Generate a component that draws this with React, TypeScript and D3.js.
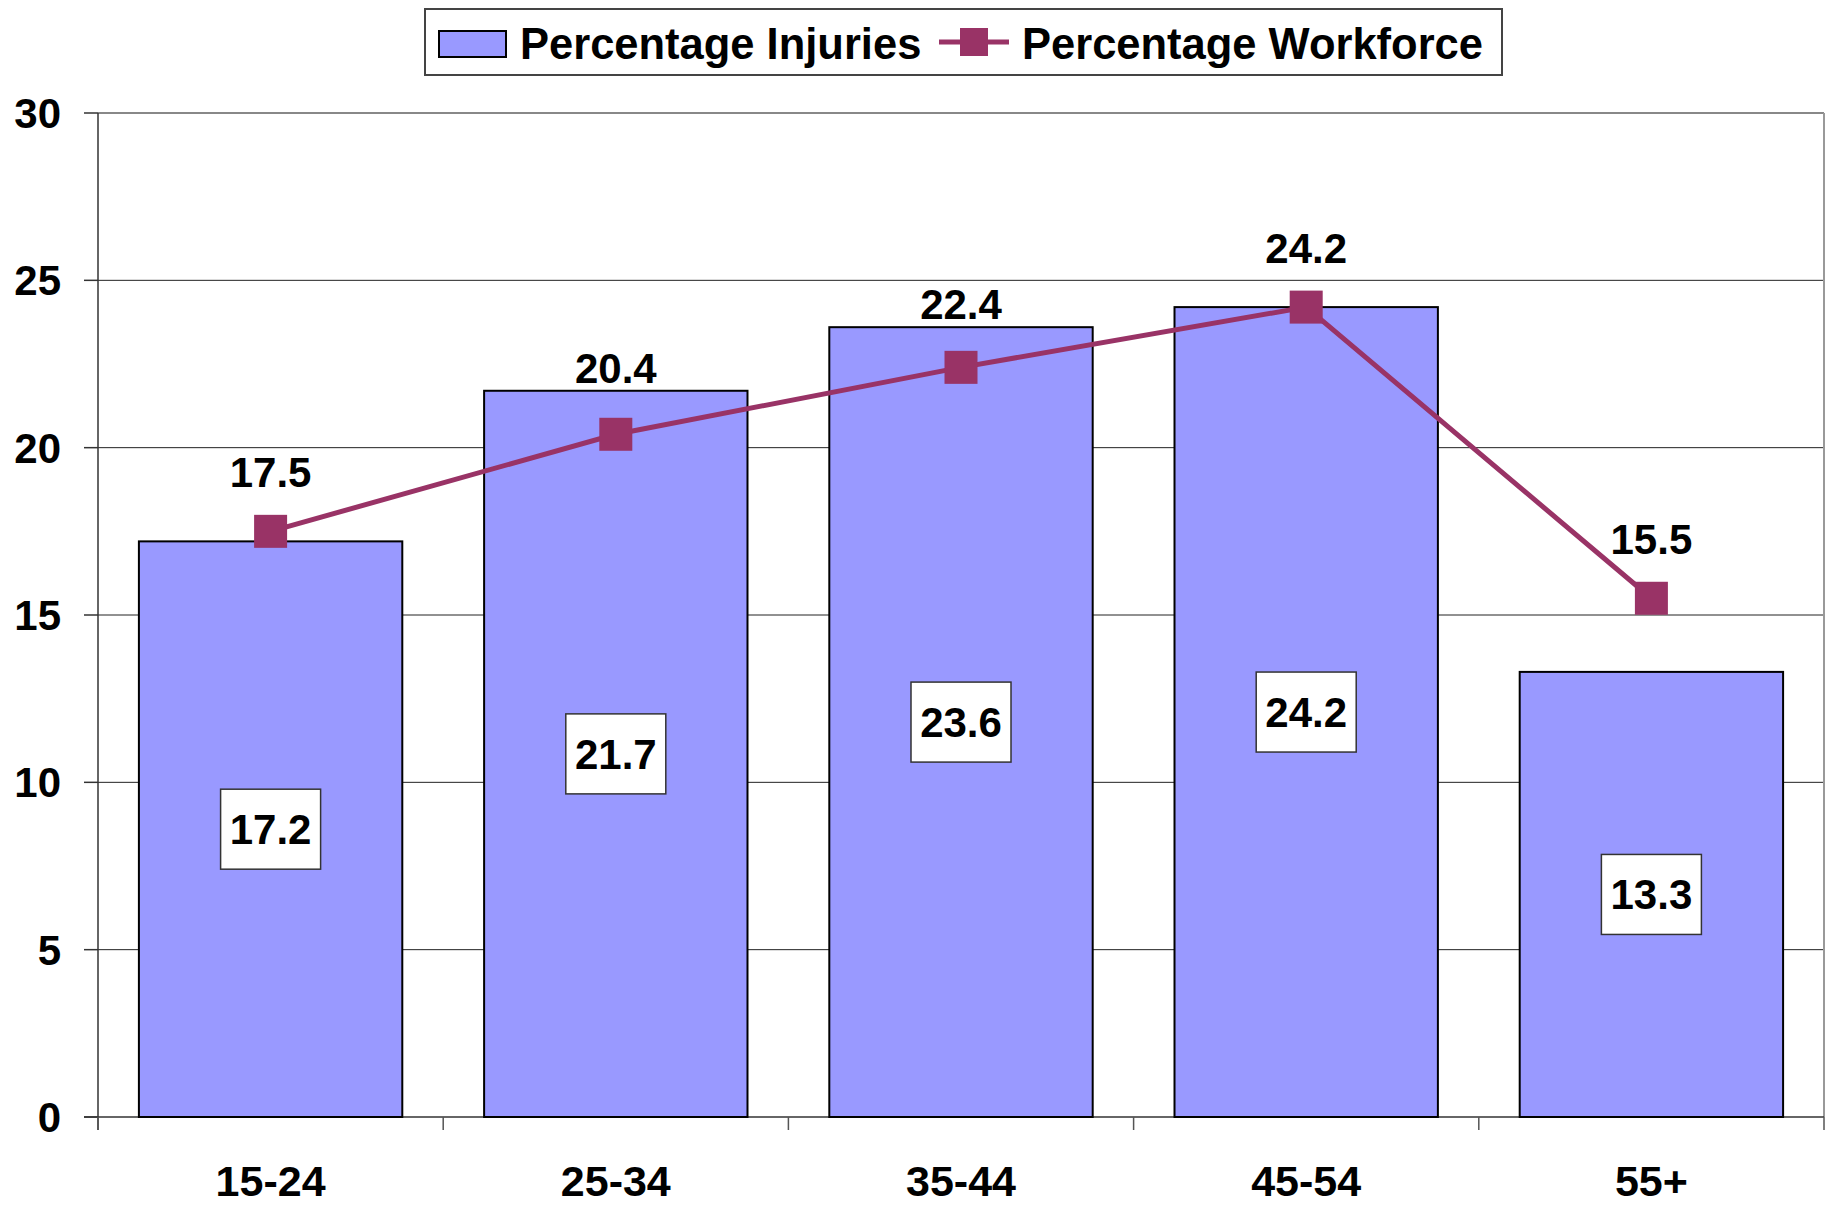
import React from "react";
import * as d3 from "d3";

const categories = ["15-24", "25-34", "35-44", "45-54", "55+"];
const injuries = [17.2, 21.7, 23.6, 24.2, 13.3];
const workforce = [17.5, 20.4, 22.4, 24.2, 15.5];
const yTicks = [0, 5, 10, 15, 20, 25, 30];

const W = 1829;
const H = 1206;
const FONT = "'Liberation Sans', Arial, Helvetica, sans-serif";

export default function App() {
  const left = 98;
  const right = 1824;
  const top = 113;
  const bottom = 1117;

  const x = d3.scaleBand<string>().domain(categories).range([left, right]).paddingInner(0.237).paddingOuter(0.1185);
  const xc = d3.scaleBand<string>().domain(categories).range([left, right]);
  const y = d3.scaleLinear().domain([0, 30]).range([bottom, top]);

  const lineGen = d3
    .line<number>()
    .x((_, i) => (xc(categories[i]) as number) + xc.bandwidth() / 2)
    .y((d) => y(d));

  const fs = 42;
  const boundaries = d3.range(categories.length + 1).map((i) => left + i * xc.step());

  return (
    <svg
      width={W}
      height={H}
      style={{ position: "absolute", left: 0, top: 0, background: "#fff" }}
      fontFamily={FONT}
      fontWeight="bold"
    >
      <rect x={0} y={0} width={W} height={H} fill="#fff" />
      {/* gridlines */}
      {yTicks.filter((t) => t > 0).map((t) => (
        <line
          key={t}
          x1={left}
          x2={right}
          y1={y(t)}
          y2={y(t)}
          stroke={t === 30 ? "#888" : "#222"}
          strokeWidth={t === 30 ? 2 : 1}
        />
      ))}
      {/* right border */}
      <line x1={right} x2={right} y1={top} y2={bottom} stroke="#999" strokeWidth={2} />
      {/* y axis */}
      <line x1={left} x2={left} y1={top} y2={bottom + 13} stroke="#333" strokeWidth={1.5} />
      {yTicks.map((t) => (
        <g key={t}>
          <line x1={left - 14} x2={left} y1={y(t)} y2={y(t)} stroke="#333" strokeWidth={1.5} />
          <text x={61} y={y(t) + 15} textAnchor="end" fontSize={fs} fill="#000">
            {t}
          </text>
        </g>
      ))}
      {/* x axis */}
      <line x1={left - 14} x2={right} y1={bottom} y2={bottom} stroke="#333" strokeWidth={1.5} />
      {boundaries.map((bx, i) => (
        <line key={i} x1={bx} x2={bx} y1={bottom} y2={bottom + 13} stroke="#555" strokeWidth={1.5} />
      ))}
      {categories.map((c) => (
        <text
          key={c}
          x={(xc(c) as number) + xc.bandwidth() / 2}
          y={1196}
          textAnchor="middle"
          fontSize={43}
          fill="#000"
        >
          {c}
        </text>
      ))}
      {/* bars */}
      {injuries.map((v, i) => (
        <rect
          key={i}
          x={x(categories[i])}
          y={y(v)}
          width={x.bandwidth()}
          height={bottom - y(v)}
          fill="#9999FF"
          stroke="#000"
          strokeWidth={2}
        />
      ))}
      {/* bar labels */}
      {injuries.map((v, i) => {
        const cx = (xc(categories[i]) as number) + xc.bandwidth() / 2;
        const cy = y(v / 2);
        return (
          <g key={i}>
            <rect x={cx - 50} y={cy - 40} width={100} height={80} fill="#fff" stroke="#333" strokeWidth={1.5} />
            <text x={cx} y={cy + 15} textAnchor="middle" fontSize={fs} fill="#000">
              {v.toFixed(1)}
            </text>
          </g>
        );
      })}
      {/* line */}
      <path d={lineGen(workforce) as string} fill="none" stroke="#993366" strokeWidth={5} />
      {workforce.map((v, i) => {
        const cx = (xc(categories[i]) as number) + xc.bandwidth() / 2;
        return (
          <rect key={i} x={cx - 16.5} y={y(v) - 16.5} width={33} height={33} fill="#993366" />
        );
      })}
      {workforce.map((v, i) => {
        const cx = (xc(categories[i]) as number) + xc.bandwidth() / 2;
        const barTop = y(injuries[i]);
        const base = Math.min(y(v) - 44, barTop > y(v) + 30 ? Infinity : barTop - 8);
        return (
          <text key={i} x={cx} y={base} textAnchor="middle" fontSize={fs} fill="#000">
            {v.toFixed(1)}
          </text>
        );
      })}
      {/* legend */}
      <rect x={425} y={9} width={1077} height={66} fill="#fff" stroke="#444" strokeWidth={2} />
      <rect x={439} y={31} width={67} height={26} fill="#9999FF" stroke="#000" strokeWidth={2} />
      <text x={520} y={59} fontSize={43.5} fill="#000">
        Percentage Injuries
      </text>
      <line x1={939} x2={1009} y1={42} y2={42} stroke="#993366" strokeWidth={5} />
      <rect x={974 - 14} y={42 - 14} width={28} height={28} fill="#993366" />
      <text x={1022} y={59} fontSize={43.5} fill="#000">
        Percentage Workforce
      </text>
    </svg>
  );
}
